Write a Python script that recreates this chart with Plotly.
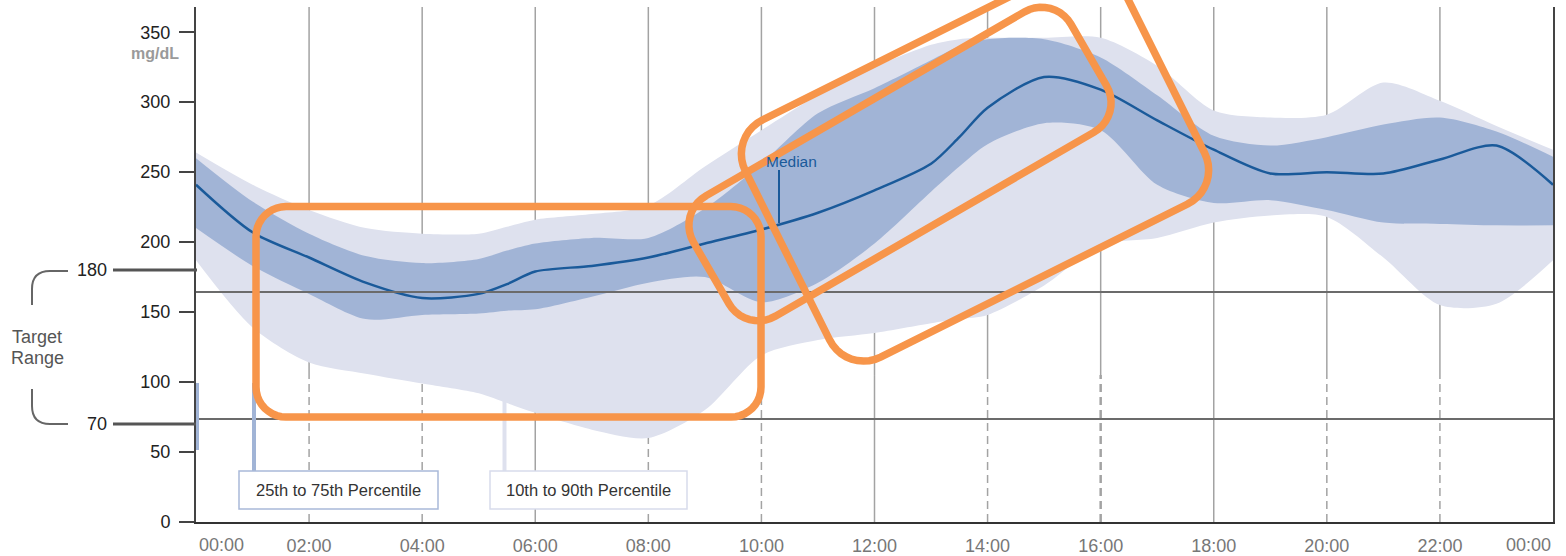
import math
import plotly.graph_objects as go

# Ambulatory glucose profile: percentiles by time of day (mg/dL)
hours = [0, 1, 2, 3, 4, 5, 5.5, 6, 7, 8, 9, 10, 11, 12, 13, 13.5, 14, 15, 16, 17, 18, 19, 20, 21, 22, 23, 24]
p90 = [264, 241, 223, 210, 206, 206, 211, 216, 220, 226, 254, 280, 305, 325, 341, 345, 346, 346, 346, 326, 294, 289, 291, 314, 301, 283, 266]
p75 = [260, 229, 206, 190, 185, 188, 194, 199, 203, 203, 224, 256, 292, 310, 330, 340, 345, 345, 332, 305, 276, 269, 275, 284, 289, 279, 261]
median = [241, 207, 189, 171, 160, 163, 170, 179, 183, 189, 199, 209, 221, 237, 256, 275, 296, 318, 309, 287, 266, 249, 250, 249, 259, 269, 241]
p25 = [210, 183, 163, 145, 148, 149, 151, 152, 161, 171, 175, 157, 171, 199, 236, 254, 270, 285, 280, 241, 228, 230, 223, 214, 213, 212, 212]
p10 = [187, 139, 114, 106, 99, 92, 85, 78, 66, 60, 80, 119, 130, 135, 142, 145, 148, 169, 198, 203, 214, 219, 218, 189, 155, 156, 187]

x_tick_vals = [2, 4, 6, 8, 10, 12, 14, 16, 18, 20, 22]
x_tick_text = ["02:00", "04:00", "06:00", "08:00", "10:00", "12:00", "14:00", "16:00", "18:00", "20:00", "22:00"]
y_tick_vals = [0, 50, 100, 150, 200, 250, 300, 350]
target_low, target_high = 70, 180
target_line_levels = [164.3, 73.6]

W, H = 1566, 556
ML, MR, MT, MB = 196, 13, 7, 34
PW, PH = W - ML - MR, H - MT - MB
Y_MAX = 368

LIGHT = "#dee1ee"
DARK = "#a1b4d6"
MEDIAN = "#1a5a9a"
ORANGE = "#f7954a"
FONT = "Liberation Sans, Arial, sans-serif"


def px(x):
    return (x - ML) / PW


def py(y):
    return (H - MB - y) / PH


def rounded_rect(cx, cy, w, h, ang, r, n=10):
    a = math.radians(ang)
    ux, uy = math.cos(a), math.sin(a)
    vx, vy = -math.sin(a), math.cos(a)
    pts = []
    for sx, sy, start in [(1, 1, 0), (-1, 1, 90), (-1, -1, 180), (1, -1, 270)]:
        ccx, ccy = sx * (w / 2 - r), sy * (h / 2 - r)
        for k in range(n + 1):
            t = math.radians(start + 90 * k / n)
            lx, ly = ccx + r * math.cos(t), ccy + r * math.sin(t)
            X = cx + lx * ux + ly * vx
            Y = cy + lx * uy + ly * vy
            pts.append((px(X), py(Y)))
    return "M " + " L ".join(f"{a:.5f},{b:.5f}" for a, b in pts) + " Z"


fig = go.Figure()
band_line = dict(width=0, shape="spline", smoothing=0.8)
fig.add_trace(go.Scatter(x=hours, y=p10, mode="lines", line=band_line, hoverinfo="skip", showlegend=False))
fig.add_trace(go.Scatter(x=hours, y=p90, mode="lines", line=band_line, fill="tonexty", fillcolor=LIGHT,
                         hoverinfo="skip", showlegend=False))
fig.add_trace(go.Scatter(x=hours, y=p25, mode="lines", line=band_line, hoverinfo="skip", showlegend=False))
fig.add_trace(go.Scatter(x=hours, y=p75, mode="lines", line=band_line, fill="tonexty", fillcolor=DARK,
                         hoverinfo="skip", showlegend=False))
fig.add_trace(go.Scatter(x=hours, y=median, mode="lines",
                         line=dict(color=MEDIAN, width=2.5, shape="spline", smoothing=0.8),
                         showlegend=False))

shapes = []
# vertical hour grid: solid above, dashed low except every six hours
split = 105
for h in x_tick_vals:
    shapes.append(dict(type="line", xref="x", yref="y", x0=h, x1=h, y0=split, y1=Y_MAX,
                       line=dict(color="#a3a3a3", width=1.5), layer="below"))
    shapes.append(dict(type="line", xref="x", yref="y", x0=h, x1=h, y0=0, y1=split,
                       line=dict(color="#a3a3a3", width=2.5 if h == 16 else 1.5,
                                 dash="solid" if h % 6 == 0 else "8px,5px"),
                       layer="below"))
# target range reference lines
for lv in target_line_levels:
    shapes.append(dict(type="line", xref="paper", yref="y", x0=0, x1=1, y0=lv, y1=lv,
                       line=dict(color="#6b6b6b", width=2), layer="above"))
# 180 / 70 label rules
for yy in (270, 424):
    shapes.append(dict(type="line", xref="paper", yref="paper", x0=px(113), x1=px(197), y0=py(yy), y1=py(yy),
                       line=dict(color="#555555", width=3)))
# target range bracket
bracket_top = (f"M {px(68)},{py(271)} L {px(50)},{py(271)} Q {px(32)},{py(271)} {px(32)},{py(289)} "
               f"L {px(32)},{py(305)}")
bracket_bot = (f"M {px(32)},{py(389)} L {px(32)},{py(406)} Q {px(32)},{py(424)} {px(50)},{py(424)} "
               f"L {px(68)},{py(424)}")
for p in (bracket_top, bracket_bot):
    shapes.append(dict(type="path", xref="paper", yref="paper", path=p, line=dict(color="#666666", width=2)))

# legend leaders and boxes
shapes.append(dict(type="line", xref="paper", yref="paper", x0=px(254), x1=px(254), y0=py(383), y1=py(471),
                   line=dict(color=DARK, width=4)))
shapes.append(dict(type="line", xref="paper", yref="paper", x0=px(504.5), x1=px(504.5), y0=py(397), y1=py(471),
                   line=dict(color=LIGHT, width=4)))
shapes.append(dict(type="line", xref="paper", yref="paper", x0=px(197.5), x1=px(197.5), y0=py(383), y1=py(450),
                   line=dict(color=DARK, width=3)))
shapes.append(dict(type="rect", xref="paper", yref="paper", x0=px(239), x1=px(438), y0=py(471), y1=py(509),
                   line=dict(color="#a9b9d9", width=1.5), fillcolor="white"))
shapes.append(dict(type="rect", xref="paper", yref="paper", x0=px(490), x1=px(687), y0=py(471), y1=py(509),
                   line=dict(color="#d8dbeb", width=1.5), fillcolor="white"))
# median callout leader
shapes.append(dict(type="line", xref="paper", yref="paper", x0=px(779), x1=px(779), y0=py(170), y1=py(223),
                   line=dict(color=MEDIAN, width=2)))

# highlight outlines
for cx, cy, w, h, ang, r in [
    (508.5, 311.8, 505, 210.5, 0, 30),
    (900, 164, 436, 139, -30, 34),
    (975, 162, 419, 265, -26.5, 38),
]:
    shapes.append(dict(type="path", xref="paper", yref="paper", path=rounded_rect(cx, cy, w, h, ang, r),
                       line=dict(color=ORANGE, width=7.5), layer="above"))

annotations = [
    dict(x=px(155), y=py(53), text="<b>mg/dL</b>", font=dict(size=16, color="#9a9a9a")),
    dict(x=px(109), y=py(270), text=str(target_high), xanchor="right", font=dict(size=18, color="#222")),
    dict(x=px(109), y=py(424), text=str(target_low), xanchor="right", font=dict(size=18, color="#222")),
    dict(x=px(37), y=py(337), text="Target", font=dict(size=18, color="#555")),
    dict(x=px(37), y=py(358), text="Range", font=dict(size=18, color="#555")),
    dict(x=px(338.5), y=py(490), text="25th to 75th Percentile", font=dict(size=16.5, color="#333")),
    dict(x=px(588.5), y=py(490), text="10th to 90th Percentile", font=dict(size=16.5, color="#333")),
    dict(x=px(791), y=py(161), text="Median", font=dict(size=15.5, color=MEDIAN)),
    dict(x=0, y=py(545), text="00:00", xanchor="left", xshift=1, font=dict(size=18, color="#777")),
    dict(x=1, y=py(545), text="00:00", xanchor="right", font=dict(size=18, color="#777")),
]
for a in annotations:
    a.setdefault("xref", "paper")
    a.setdefault("yref", "paper")
    a.setdefault("showarrow", False)
    a.setdefault("yanchor", "middle")
    a.setdefault("xanchor", "center")

fig.update_layout(
    width=W, height=H, autosize=False,
    margin=dict(l=ML, r=MR, t=MT, b=MB, pad=0, autoexpand=False),
    paper_bgcolor="white", plot_bgcolor="white",
    font=dict(family=FONT),
    shapes=shapes, annotations=annotations,
    xaxis=dict(range=[0, 24], tickvals=x_tick_vals, ticktext=x_tick_text, ticks="",
               showgrid=False, zeroline=False, showline=True, linecolor="#333", linewidth=2,
               tickfont=dict(size=18, color="#777"), ticklabelstandoff=6, automargin=False,
               fixedrange=True),
    yaxis=dict(range=[0, Y_MAX], tickvals=y_tick_vals, ticks="outside", ticklen=15, tickwidth=2,
               tickcolor="#444", showgrid=False, zeroline=False, showline=True, linecolor="#444",
               linewidth=2, mirror=True, tickfont=dict(size=18, color="#222"), ticklabelstandoff=5,
               automargin=False, fixedrange=True),
    showlegend=False,
)

fig.write_html("out.html")
